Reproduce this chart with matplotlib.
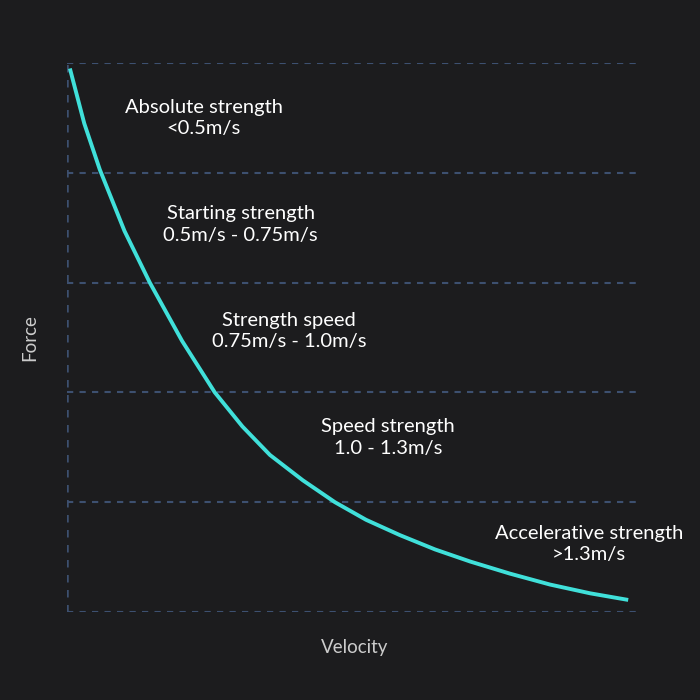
import matplotlib
matplotlib.use("Agg")
import matplotlib.pyplot as plt

curve_x = [0.05, 0.3, 0.57, 1.0, 1.44, 2.0, 2.57, 3.05, 3.53, 4.1, 4.66, 5.2, 5.79, 6.4, 7.01, 7.7, 8.40, 9.1, 9.76]
curve_y = [4.95, 4.45, 4.03, 3.47, 3.0, 2.47, 2.0, 1.69, 1.43, 1.20, 1.0, 0.84, 0.70, 0.57, 0.46, 0.35, 0.25, 0.17, 0.11]
zone_names = ["Absolute strength", "Starting strength", "Strength speed", "Speed strength", "Accelerative strength"]
zone_ranges = ["<0.5m/s", "0.5m/s - 0.75m/s", "0.75m/s - 1.0m/s", "1.0 - 1.3m/s", ">1.3m/s"]
label_x = [2.38, 3.02, 3.86, 5.58, 9.08]
label_y = [4.50, 3.53, 2.56, 1.59, 0.62]
grid_levels = [0, 1, 2, 3, 4, 5]

bg = "#1c1c1e"
fig = plt.figure(figsize=(7, 7), dpi=100, facecolor=bg)
ax = fig.add_axes([67/700, 88/700, 575/700, 549/700], facecolor=bg)
ax.set_xlim(0, 10)
ax.set_ylim(0, 5)
for g in grid_levels:
    ax.axhline(g, color="#3d5070", lw=1.5, ls=(0, (3, 3)), zorder=1)
ax.axvline(0, color="#3d5070", lw=1.8, ls=(0, (3, 3)), zorder=1)
ax.plot(curve_x, curve_y, color="#40e0da", lw=2.8, solid_capstyle="butt",
        solid_joinstyle="round", zorder=3)
for n, r, x, y in zip(zone_names, zone_ranges, label_x, label_y):
    ax.text(x, y, n + "\n" + r, color="white", fontsize=14.5, fontfamily="Lato",
            ha="center", va="center", linespacing=1.3)
for s in ax.spines.values():
    s.set_visible(False)
ax.set_xticks([])
ax.set_yticks([])
fig.text(30/700, 1-338/700, "Force", color="#cccccc", fontsize=13.5, fontfamily="Lato",
         rotation=90, ha="center", va="center")
fig.text(355/700, 1-647/700, "Velocity", color="#cccccc", fontsize=13.5, fontfamily="Lato",
         ha="center", va="center")
fig.savefig("out.png", facecolor=bg)
